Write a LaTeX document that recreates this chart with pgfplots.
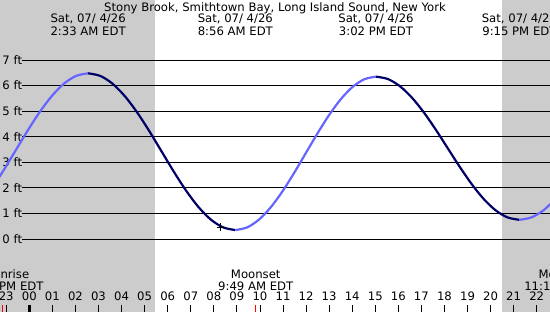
\documentclass[border=0pt]{standalone}
\usepackage{pgfplots}
\pgfplotsset{compat=1.18}
\usepackage{fontspec}
\setmainfont{DejaVu Sans}
\definecolor{night}{HTML}{CCCCCC}
\definecolor{rise}{HTML}{6666FF}
\definecolor{fall}{HTML}{000066}
\begin{document}
\begin{tikzpicture}[font=\fontsize{11.7}{14}\selectfont]
\begin{axis}[
  scale only axis, width=550bp, height=312bp,
  xmin=-1.2704, xmax=22.576, ymin=-2.8548, ymax=9.3465,
  axis line style={draw=none},
  axis on top,
  ytick=\empty,
  xtick={-1,0,...,22},
  xticklabels={23,00,01,02,03,04,05,06,07,08,09,10,11,12,13,14,15,16,17,18,19,20,21,22},
  xtick pos=bottom, tick align=inside, major tick length=7bp,
  tick style={black, line width=0.8bp},
  xticklabel style={anchor=base, yshift=11.2bp, inner sep=0pt},
  clip=true,
]
% night shading
\fill[night] (axis cs:-2,-4) rectangle (axis cs:5.45,10);
\fill[night] (axis cs:20.495,-4) rectangle (axis cs:24,10);
% grid lines and height labels
\pgfplotsinvokeforeach{0,...,7}{
  \draw[black, line width=0.9bp] (axis cs:-0.3295,#1) -- (axis cs:23,#1);
  \node[anchor=west, inner sep=0pt] at (axis cs:-1.171,#1) {#1 ft};
}
% rising (previous low to 2:33 AM high)
\addplot[rise, line width=2.2bp, smooth] coordinates {
(-2.138,1.376) (-1.617,1.995) (-1.096,2.716) (-0.575,3.490) (-0.054,4.264)
(0.467,4.985) (0.988,5.604) (1.508,6.079) (2.029,6.378) (2.550,6.480)};
% falling to 8:56 AM low
\addplot[fall, line width=2.2bp, smooth] coordinates {
(2.550,6.480) (3.082,6.376) (3.614,6.069) (4.146,5.582) (4.678,4.948)
(5.210,4.208) (5.742,3.415) (6.273,2.622) (6.805,1.883) (7.337,1.248)
(7.869,0.761) (8.401,0.455) (8.933,0.350)};
% rising to 3:02 PM high
\addplot[rise, line width=2.2bp, smooth] coordinates {
(8.933,0.350) (9.442,0.452) (9.950,0.752) (10.458,1.229) (10.967,1.850)
(11.475,2.574) (11.983,3.350) (12.492,4.126) (13.000,4.850) (13.508,5.471)
(14.017,5.948) (14.525,6.248) (15.033,6.350)};
% falling to 9:15 PM low
\addplot[fall, line width=2.2bp, smooth] coordinates {
(15.033,6.350) (15.551,6.255) (16.069,5.975) (16.587,5.530) (17.106,4.950)
(17.624,4.275) (18.142,3.550) (18.660,2.825) (19.178,2.150) (19.696,1.570)
(20.214,1.125) (20.732,0.845) (21.250,0.750)};
% rising after 9:15 PM low
\addplot[rise, line width=2.2bp, smooth] coordinates {
(21.250,0.750) (21.771,0.845) (22.292,1.122) (22.812,1.563)};
% current time marker
\addplot[black, only marks, mark=+, mark size=4bp, line width=0.8bp] coordinates {(8.3,0.47)};
% moon events and midnight
\addplot[red, line width=0.9bp] coordinates {(-1.153,-2.855) (-1.153,-2.581)};
\addplot[red, line width=0.9bp] coordinates {(9.817,-2.855) (9.817,-2.581)};
\addplot[black, line width=3bp] coordinates {(0,-2.855) (0,-2.581)};
% titles
\node[anchor=base] at (axis cs:10.653,8.901) {Stony Brook, Smithtown Bay, Long Island Sound, New York};
\node[anchor=base] at (axis cs:2.550,8.478) {Sat, 07/ 4/26};
\node[anchor=base] at (axis cs:2.550,7.939) {2:33 AM EDT};
\node[anchor=base] at (axis cs:8.933,8.478) {Sat, 07/ 4/26};
\node[anchor=base] at (axis cs:8.933,7.939) {8:56 AM EDT};
\node[anchor=base] at (axis cs:15.033,8.478) {Sat, 07/ 4/26};
\node[anchor=base] at (axis cs:15.033,7.939) {3:02 PM EDT};
\node[anchor=base] at (axis cs:21.250,8.478) {Sat, 07/ 4/26};
\node[anchor=base] at (axis cs:21.250,7.939) {9:15 PM EDT};
% moon labels
\node[anchor=base] at (axis cs:-1.153,-1.553) {Moonrise};
\node[anchor=base] at (axis cs:-1.153,-2.010) {10:51 PM EDT};
\node[anchor=base] at (axis cs:9.817,-1.553) {Moonset};
\node[anchor=base] at (axis cs:9.817,-2.010) {9:49 AM EDT};
\node[anchor=base] at (axis cs:23.23,-1.553) {Moonrise};
\node[anchor=base] at (axis cs:23.23,-2.010) {11:14 PM EDT};
\end{axis}
\pgfresetboundingbox
\path[use as bounding box] (current axis.south west) rectangle (current axis.north east);
\end{tikzpicture}
\end{document}
